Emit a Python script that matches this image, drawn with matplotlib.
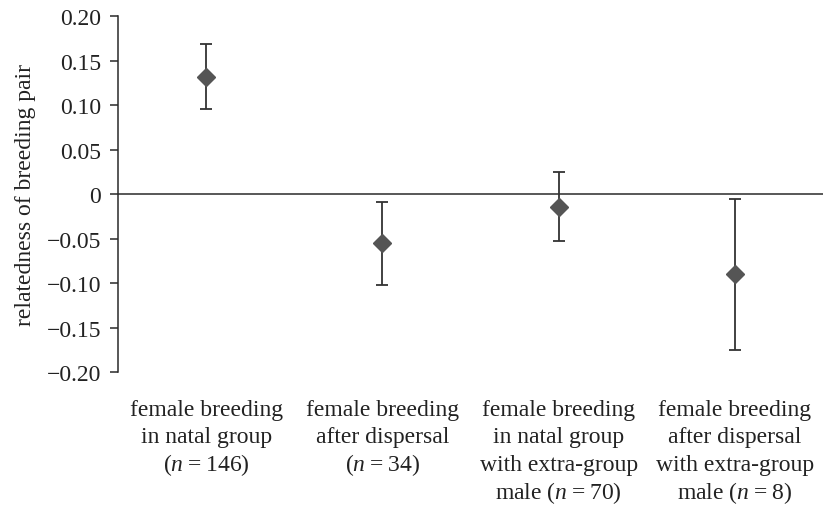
import numpy as np
import matplotlib.pyplot as plt
import matplotlib.transforms as mtransforms

# --- DADOS ---
categorias = [
    ["female breeding", "in natal group", "($n$\u2009=\u2009146)"],
    ["female breeding", "after dispersal", "($n$\u2009=\u200934)"],
    ["female breeding", "in natal group", "with extra-group", "male ($n$\u2009=\u200970)"],
    ["female breeding", "after dispersal", "with extra-group", "male ($n$\u2009=\u20098)"],
]
media = [0.132, -0.055, -0.015, -0.090]
limite_sup = [0.168, -0.009, 0.025, -0.006]
limite_inf = [0.095, -0.102, -0.053, -0.175]
yticks = [0.20, 0.15, 0.10, 0.05, 0, -0.05, -0.10, -0.15, -0.20]
ytick_labels = ["0.20", "0.15", "0.10", "0.05", "0",
                "\u22120.05", "\u22120.10", "\u22120.15", "\u22120.20"]

plt.rcParams['font.family'] = ['Liberation Serif', 'DejaVu Serif']
plt.rcParams['mathtext.fontset'] = 'custom'
plt.rcParams['mathtext.it'] = 'Liberation Serif:italic'
plt.rcParams['mathtext.rm'] = 'Liberation Serif'

FS = 17
COR_TEXTO = '#222222'

fig = plt.figure(figsize=(8.24, 5.06), dpi=100)
ax = fig.add_axes([0.1432, 0.2628, 0.8556, 0.7036])

x = np.arange(len(categorias))
media = np.array(media)
err = [media - np.array(limite_inf), np.array(limite_sup) - media]

ax.axhline(0, color='#2a2a2a', lw=1.1, zorder=1)
ax.errorbar(x, media, yerr=err, fmt='D', color='#555555', ms=9,
            ecolor='#333333', elinewidth=1.3, capsize=4.5, capthick=1.3, zorder=3)

ax.set_xlim(-0.5, 3.5)
ax.set_ylim(-0.2, 0.2)
ax.set_yticks(yticks)
ax.set_yticklabels(ytick_labels, fontsize=FS, color=COR_TEXTO)
ax.set_xticks(x)
ax.set_xticklabels([])
ax.tick_params(axis='x', length=0)
ax.tick_params(axis='y', direction='out', length=6, width=1.1, color='#2a2a2a', pad=6)

# rótulos das categorias, uma linha de cada vez (espaçamento uniforme)
for i, linhas in enumerate(categorias):
    for k, linha in enumerate(linhas):
        tr = mtransforms.offset_copy(ax.get_xaxis_transform(), fig=fig,
                                     x=0, y=-(42.7 + 27.7 * k), units='dots')
        ax.text(i, 0, linha, transform=tr, ha='center', va='baseline',
                fontsize=FS, color=COR_TEXTO, clip_on=False)

for lado in ['top', 'right', 'bottom']:
    ax.spines[lado].set_visible(False)
ax.spines['left'].set_color('#2a2a2a')
ax.spines['left'].set_linewidth(1.1)

ax.set_ylabel('relatedness of breeding pair', fontsize=FS, color=COR_TEXTO, labelpad=8)

plt.savefig('out.png', dpi=100)
